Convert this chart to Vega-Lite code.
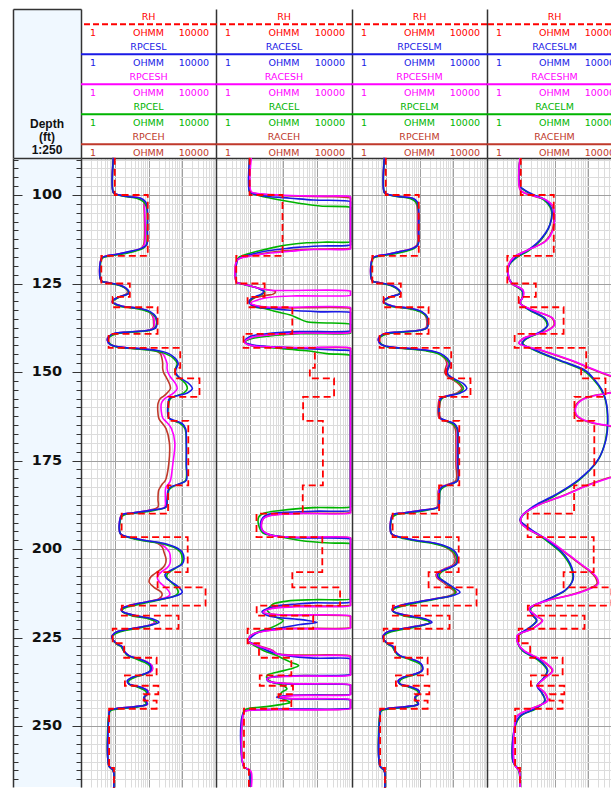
{
"$schema":"https://vega.github.io/schema/vega-lite/v6.json",
"background":"white",
"padding":{"left":12,"top":9,"right":0,"bottom":0},
"spacing":0,
"bounds":"flush",
"align":"each",
"columns":5,
"config":{"view":{"stroke":null},"axis":{"domainColor":"#333333","domainWidth":1.5,"tickColor":"#333333"},"text":{"font":"DejaVu Sans"}},
"datasets":{
"depthTitle":[{"label":"Depth\n(ft)\n1:250"}],
"depthLabels":[{"depth":100},{"depth":125},{"depth":150},{"depth":175},{"depth":200},{"depth":225},{"depth":250}],
"hdr1":[{"row":0,"curve":"RH","fam":"RH","lo":1,"hi":10000,"unit":"OHMM"},{"row":1,"curve":"RPCESL","fam":"SL","lo":1,"hi":10000,"unit":"OHMM"},{"row":2,"curve":"RPCESH","fam":"SH","lo":1,"hi":10000,"unit":"OHMM"},{"row":3,"curve":"RPCEL","fam":"L","lo":1,"hi":10000,"unit":"OHMM"},{"row":4,"curve":"RPCEH","fam":"H","lo":1,"hi":10000,"unit":"OHMM"}],
"hdr2":[{"row":0,"curve":"RH","fam":"RH","lo":1,"hi":10000,"unit":"OHMM"},{"row":1,"curve":"RACESL","fam":"SL","lo":1,"hi":10000,"unit":"OHMM"},{"row":2,"curve":"RACESH","fam":"SH","lo":1,"hi":10000,"unit":"OHMM"},{"row":3,"curve":"RACEL","fam":"L","lo":1,"hi":10000,"unit":"OHMM"},{"row":4,"curve":"RACEH","fam":"H","lo":1,"hi":10000,"unit":"OHMM"}],
"hdr3":[{"row":0,"curve":"RH","fam":"RH","lo":1,"hi":10000,"unit":"OHMM"},{"row":1,"curve":"RPCESLM","fam":"SL","lo":1,"hi":10000,"unit":"OHMM"},{"row":2,"curve":"RPCESHM","fam":"SH","lo":1,"hi":10000,"unit":"OHMM"},{"row":3,"curve":"RPCELM","fam":"L","lo":1,"hi":10000,"unit":"OHMM"},{"row":4,"curve":"RPCEHM","fam":"H","lo":1,"hi":10000,"unit":"OHMM"}],
"hdr4":[{"row":0,"curve":"RH","fam":"RH","lo":1,"hi":10000,"unit":"OHMM"},{"row":1,"curve":"RACESLM","fam":"SL","lo":1,"hi":10000,"unit":"OHMM"},{"row":2,"curve":"RACESHM","fam":"SH","lo":1,"hi":10000,"unit":"OHMM"},{"row":3,"curve":"RACELM","fam":"L","lo":1,"hi":10000,"unit":"OHMM"},{"row":4,"curve":"RACEHM","fam":"H","lo":1,"hi":10000,"unit":"OHMM"}],
"RH":[{"depth":89.5,"res":10},{"depth":100,"res":95},{"depth":117.2,"res":4},{"depth":125,"res":28},{"depth":128.8,"res":8.7},{"depth":131.7,"res":186},{"depth":139.2,"res":6.6},{"depth":143.2,"res":870},{"depth":148.8,"res":617},{"depth":151.8,"res":3240},{"depth":157,"res":390},{"depth":163.8,"res":1510},{"depth":182,"res":380},{"depth":190,"res":16},{"depth":196.6,"res":1450},{"depth":206.5,"res":186},{"depth":210.8,"res":4900},{"depth":216,"res":16.2},{"depth":218.8,"res":776},{"depth":222.5,"res":8.7},{"depth":226.6,"res":19},{"depth":230.7,"res":174},{"depth":235.7,"res":20},{"depth":238.6,"res":195},{"depth":241,"res":72},{"depth":242.8,"res":174},{"depth":245.1,"res":6.8},{"depth":261.8,"res":9.5},{"depth":267.6,"res":9.5}],
"RPCESL":[{"depth":89.5,"res":9.1},{"depth":99.3,"res":9.1},{"depth":99.8,"res":11.2},{"depth":100.5,"res":26.3},{"depth":100.9,"res":58.9},{"depth":101.9,"res":81.3},{"depth":103.3,"res":91.2},{"depth":110,"res":93.3},{"depth":114,"res":89.1},{"depth":115,"res":64.6},{"depth":116,"res":26.3},{"depth":116.8,"res":10.7},{"depth":117.3,"res":5.37},{"depth":117.9,"res":4.07},{"depth":124.2,"res":3.98},{"depth":124.8,"res":6.76},{"depth":125.7,"res":16.6},{"depth":126.9,"res":25.1},{"depth":127.8,"res":26.3},{"depth":128.8,"res":13.2},{"depth":129.7,"res":8.91},{"depth":130.2,"res":8.51},{"depth":131.4,"res":16.6},{"depth":132,"res":52.5},{"depth":133,"res":115},{"depth":134.4,"res":166},{"depth":136,"res":178},{"depth":137.5,"res":166},{"depth":138.2,"res":100},{"depth":138.7,"res":26.3},{"depth":139.1,"res":9.55},{"depth":140.1,"res":6.46},{"depth":141,"res":6.03},{"depth":142.1,"res":7.08},{"depth":142.9,"res":13.2},{"depth":143.4,"res":52.5},{"depth":144,"res":204},{"depth":144.8,"res":398},{"depth":146.2,"res":631},{"depth":147.6,"res":759},{"depth":149,"res":661},{"depth":150.2,"res":631},{"depth":151.4,"res":794},{"depth":153.3,"res":1585},{"depth":154.7,"res":1995},{"depth":155.9,"res":1413},{"depth":156.8,"res":631},{"depth":157.5,"res":417},{"depth":158.9,"res":380},{"depth":162.9,"res":398},{"depth":163.8,"res":631},{"depth":164.6,"res":1000},{"depth":166,"res":1259},{"depth":170,"res":1318},{"depth":176,"res":1318},{"depth":180.6,"res":1318},{"depth":181.5,"res":891},{"depth":182.5,"res":447},{"depth":183.4,"res":380},{"depth":186,"res":355},{"depth":188.1,"res":331},{"depth":189,"res":129},{"depth":189.8,"res":33.1},{"depth":190.3,"res":16.6},{"depth":191,"res":14.8},{"depth":195.7,"res":14.8},{"depth":196.8,"res":33.1},{"depth":197.6,"res":81.3},{"depth":198.3,"res":257},{"depth":199.5,"res":631},{"depth":200.9,"res":1000},{"depth":202.8,"res":1122},{"depth":204.2,"res":1000},{"depth":205.3,"res":631},{"depth":206.3,"res":398},{"depth":207.2,"res":309},{"depth":208.1,"res":331},{"depth":209.4,"res":501},{"depth":210.8,"res":794},{"depth":212.2,"res":1000},{"depth":213.1,"res":708},{"depth":214.1,"res":257},{"depth":215,"res":81.3},{"depth":216,"res":26.3},{"depth":216.9,"res":15.8},{"depth":217.6,"res":16.6},{"depth":218.8,"res":41.7},{"depth":219.7,"res":129},{"depth":220.7,"res":204},{"depth":221.6,"res":100},{"depth":222.6,"res":26.3},{"depth":223.5,"res":10.7},{"depth":224.4,"res":8.51},{"depth":224.9,"res":8.13},{"depth":226.8,"res":11.7},{"depth":227.5,"res":16.6},{"depth":228.7,"res":18.6},{"depth":230.1,"res":26.3},{"depth":231,"res":52.5},{"depth":232,"res":91.2},{"depth":232.9,"res":115},{"depth":234.3,"res":115},{"depth":235.3,"res":72.4},{"depth":236.2,"res":33.1},{"depth":237.2,"res":23.4},{"depth":238.1,"res":26.3},{"depth":239,"res":58.9},{"depth":240,"res":91.2},{"depth":240.9,"res":91.2},{"depth":241.9,"res":72.4},{"depth":242.8,"res":81.3},{"depth":243.8,"res":91.2},{"depth":244.5,"res":41.7},{"depth":245.1,"res":10.7},{"depth":245.6,"res":7.08},{"depth":246.6,"res":6.76},{"depth":261.3,"res":6.76},{"depth":262.2,"res":8.51},{"depth":263.1,"res":9.33},{"depth":267.6,"res":9.33}],
"RPCESH":[{"depth":89.5,"res":9.1},{"depth":99.3,"res":9.1},{"depth":99.8,"res":11.2},{"depth":100.5,"res":28.2},{"depth":100.9,"res":56.2},{"depth":101.9,"res":74.1},{"depth":103.3,"res":75.9},{"depth":114,"res":75.9},{"depth":115,"res":63.1},{"depth":116,"res":28.2},{"depth":116.8,"res":10.7},{"depth":117.3,"res":5.37},{"depth":117.9,"res":4.07},{"depth":124.2,"res":3.98},{"depth":124.8,"res":6.76},{"depth":125.7,"res":16.6},{"depth":126.9,"res":24},{"depth":127.8,"res":24},{"depth":128.8,"res":13.2},{"depth":129.7,"res":8.91},{"depth":130.2,"res":8.32},{"depth":131.4,"res":16.6},{"depth":132,"res":50.1},{"depth":133,"res":105},{"depth":134.4,"res":141},{"depth":136,"res":148},{"depth":137.5,"res":145},{"depth":138.2,"res":100},{"depth":138.7,"res":28.2},{"depth":139.1,"res":10},{"depth":140.1,"res":6.46},{"depth":141,"res":6.03},{"depth":142.1,"res":7.08},{"depth":142.9,"res":13.2},{"depth":143.4,"res":50.1},{"depth":144,"res":178},{"depth":144.8,"res":263},{"depth":146.2,"res":316},{"depth":147.6,"res":355},{"depth":149,"res":355},{"depth":150.2,"res":380},{"depth":151.4,"res":447},{"depth":153.3,"res":631},{"depth":154.7,"res":708},{"depth":155.9,"res":562},{"depth":156.8,"res":398},{"depth":157.5,"res":302},{"depth":158.9,"res":240},{"depth":162.9,"res":263},{"depth":163.8,"res":316},{"depth":164.6,"res":380},{"depth":166,"res":479},{"depth":170,"res":603},{"depth":176,"res":525},{"depth":180.6,"res":447},{"depth":181.5,"res":398},{"depth":182.5,"res":331},{"depth":183.4,"res":316},{"depth":186,"res":316},{"depth":188.1,"res":302},{"depth":189,"res":126},{"depth":189.8,"res":33.1},{"depth":190.3,"res":16.6},{"depth":191,"res":14.8},{"depth":195.7,"res":14.8},{"depth":196.8,"res":31.6},{"depth":197.6,"res":75.9},{"depth":198.3,"res":200},{"depth":199.5,"res":316},{"depth":200.9,"res":417},{"depth":202.8,"res":447},{"depth":204.2,"res":427},{"depth":205.3,"res":355},{"depth":206.3,"res":251},{"depth":207.2,"res":200},{"depth":208.1,"res":182},{"depth":209.4,"res":214},{"depth":210.8,"res":316},{"depth":212.2,"res":417},{"depth":213.1,"res":417},{"depth":214.1,"res":229},{"depth":215,"res":79.4},{"depth":216,"res":26.3},{"depth":216.9,"res":15.8},{"depth":217.6,"res":16.6},{"depth":218.8,"res":39.8},{"depth":219.7,"res":112},{"depth":220.7,"res":158},{"depth":221.6,"res":100},{"depth":222.6,"res":28.2},{"depth":223.5,"res":11.2},{"depth":224.4,"res":8.51},{"depth":224.9,"res":8.13},{"depth":226.8,"res":11.7},{"depth":227.5,"res":15.8},{"depth":228.7,"res":18.6},{"depth":230.1,"res":26.3},{"depth":231,"res":52.5},{"depth":232,"res":95.5},{"depth":232.9,"res":126},{"depth":234.3,"res":126},{"depth":235.3,"res":79.4},{"depth":236.2,"res":35.5},{"depth":237.2,"res":25.1},{"depth":238.1,"res":26.3},{"depth":239,"res":58.9},{"depth":240,"res":95.5},{"depth":240.9,"res":95.5},{"depth":241.9,"res":75.9},{"depth":242.8,"res":83.2},{"depth":243.8,"res":93.3},{"depth":244.5,"res":41.7},{"depth":245.1,"res":10.7},{"depth":245.6,"res":7.08},{"depth":246.6,"res":6.76},{"depth":261.3,"res":6.76},{"depth":262.2,"res":8.51},{"depth":263.1,"res":9.33},{"depth":267.6,"res":9.33}],
"RPCEL":[{"depth":89.5,"res":9.1},{"depth":99.3,"res":9.1},{"depth":99.8,"res":10.7},{"depth":100.5,"res":22.4},{"depth":100.9,"res":44.7},{"depth":101.9,"res":70.8},{"depth":103.3,"res":87.1},{"depth":110,"res":91.2},{"depth":114,"res":87.1},{"depth":115,"res":70.8},{"depth":116,"res":35.5},{"depth":116.8,"res":14.1},{"depth":117.3,"res":6.31},{"depth":117.9,"res":4.27},{"depth":124.2,"res":3.98},{"depth":124.8,"res":6.31},{"depth":125.7,"res":15.1},{"depth":126.9,"res":24},{"depth":127.8,"res":25.1},{"depth":128.8,"res":14.1},{"depth":129.7,"res":9.33},{"depth":130.2,"res":8.71},{"depth":131.4,"res":14.1},{"depth":132,"res":39.8},{"depth":133,"res":100},{"depth":134.4,"res":158},{"depth":136,"res":174},{"depth":137.5,"res":158},{"depth":138.2,"res":112},{"depth":138.7,"res":35.5},{"depth":139.1,"res":12.6},{"depth":140.1,"res":7.08},{"depth":141,"res":6.31},{"depth":142.1,"res":7.41},{"depth":142.9,"res":11.2},{"depth":143.4,"res":35.5},{"depth":144,"res":141},{"depth":144.8,"res":316},{"depth":146.2,"res":562},{"depth":147.6,"res":708},{"depth":149,"res":631},{"depth":150.2,"res":617},{"depth":151.4,"res":759},{"depth":153.3,"res":1259},{"depth":154.7,"res":1413},{"depth":155.9,"res":1122},{"depth":156.8,"res":631},{"depth":157.5,"res":447},{"depth":158.9,"res":398},{"depth":162.9,"res":398},{"depth":163.8,"res":562},{"depth":164.6,"res":891},{"depth":166,"res":1202},{"depth":170,"res":1318},{"depth":176,"res":1318},{"depth":180.6,"res":1259},{"depth":181.5,"res":891},{"depth":182.5,"res":501},{"depth":183.4,"res":398},{"depth":186,"res":363},{"depth":188.1,"res":331},{"depth":189,"res":158},{"depth":189.8,"res":44.7},{"depth":190.3,"res":20},{"depth":191,"res":15.8},{"depth":195.7,"res":14.8},{"depth":196.8,"res":28.2},{"depth":197.6,"res":63.1},{"depth":198.3,"res":200},{"depth":199.5,"res":562},{"depth":200.9,"res":891},{"depth":202.8,"res":1000},{"depth":204.2,"res":933},{"depth":205.3,"res":661},{"depth":206.3,"res":447},{"depth":207.2,"res":355},{"depth":208.1,"res":355},{"depth":209.4,"res":479},{"depth":210.8,"res":661},{"depth":212.2,"res":759},{"depth":213.1,"res":631},{"depth":214.1,"res":282},{"depth":215,"res":100},{"depth":216,"res":35.5},{"depth":216.9,"res":17.8},{"depth":217.6,"res":16.6},{"depth":218.8,"res":31.6},{"depth":219.7,"res":100},{"depth":220.7,"res":178},{"depth":221.6,"res":112},{"depth":222.6,"res":35.5},{"depth":223.5,"res":13.2},{"depth":224.4,"res":8.91},{"depth":224.9,"res":8.32},{"depth":226.8,"res":11.2},{"depth":227.5,"res":15.1},{"depth":228.7,"res":18.2},{"depth":230.1,"res":24},{"depth":231,"res":41.7},{"depth":232,"res":75.9},{"depth":232.9,"res":107},{"depth":234.3,"res":112},{"depth":235.3,"res":79.4},{"depth":236.2,"res":39.8},{"depth":237.2,"res":26.3},{"depth":238.1,"res":26.3},{"depth":239,"res":47.9},{"depth":240,"res":79.4},{"depth":240.9,"res":89.1},{"depth":241.9,"res":75.9},{"depth":242.8,"res":75.9},{"depth":243.8,"res":85.1},{"depth":244.5,"res":52.5},{"depth":245.1,"res":14.1},{"depth":245.6,"res":7.59},{"depth":246.6,"res":6.76},{"depth":261.3,"res":6.76},{"depth":262.2,"res":8.32},{"depth":263.1,"res":9.33},{"depth":267.6,"res":9.33}],
"RPCEH":[{"depth":89.5,"res":9.1},{"depth":99.3,"res":9.1},{"depth":99.8,"res":11.2},{"depth":100.5,"res":28.2},{"depth":100.9,"res":56.2},{"depth":101.9,"res":72.4},{"depth":103.3,"res":74.1},{"depth":114,"res":72.4},{"depth":115,"res":61.7},{"depth":116,"res":28.2},{"depth":116.8,"res":10.7},{"depth":117.3,"res":5.37},{"depth":117.9,"res":4.07},{"depth":124.2,"res":3.98},{"depth":124.8,"res":6.76},{"depth":125.7,"res":16.6},{"depth":126.9,"res":23.4},{"depth":127.8,"res":22.9},{"depth":128.8,"res":13.2},{"depth":129.7,"res":8.91},{"depth":130.2,"res":8.32},{"depth":131.4,"res":16.6},{"depth":132,"res":50.1},{"depth":133,"res":105},{"depth":134.4,"res":135},{"depth":136,"res":141},{"depth":137.5,"res":138},{"depth":138.2,"res":100},{"depth":138.7,"res":28.2},{"depth":139.1,"res":10},{"depth":140.1,"res":6.46},{"depth":141,"res":6.03},{"depth":142.1,"res":7.08},{"depth":142.9,"res":13.2},{"depth":143.4,"res":47.9},{"depth":144,"res":158},{"depth":144.8,"res":224},{"depth":146.2,"res":251},{"depth":147.6,"res":263},{"depth":149,"res":263},{"depth":150.2,"res":282},{"depth":151.4,"res":331},{"depth":153.3,"res":417},{"depth":154.7,"res":447},{"depth":155.9,"res":355},{"depth":156.8,"res":282},{"depth":157.5,"res":224},{"depth":158.9,"res":191},{"depth":162.9,"res":200},{"depth":163.8,"res":224},{"depth":164.6,"res":263},{"depth":166,"res":331},{"depth":170,"res":417},{"depth":176,"res":398},{"depth":180.6,"res":316},{"depth":181.5,"res":263},{"depth":182.5,"res":224},{"depth":183.4,"res":200},{"depth":186,"res":191},{"depth":188.1,"res":191},{"depth":189,"res":112},{"depth":189.8,"res":33.1},{"depth":190.3,"res":16.6},{"depth":191,"res":14.8},{"depth":195.7,"res":14.8},{"depth":196.8,"res":31.6},{"depth":197.6,"res":75.9},{"depth":198.3,"res":178},{"depth":199.5,"res":257},{"depth":200.9,"res":288},{"depth":202.8,"res":331},{"depth":204.2,"res":316},{"depth":205.3,"res":263},{"depth":206.3,"res":191},{"depth":207.2,"res":141},{"depth":208.1,"res":112},{"depth":209.4,"res":105},{"depth":210.8,"res":145},{"depth":212.2,"res":240},{"depth":213.1,"res":251},{"depth":214.1,"res":200},{"depth":215,"res":79.4},{"depth":216,"res":26.3},{"depth":216.9,"res":15.8},{"depth":217.6,"res":16.6},{"depth":218.8,"res":39.8},{"depth":219.7,"res":112},{"depth":220.7,"res":151},{"depth":221.6,"res":100},{"depth":222.6,"res":28.2},{"depth":223.5,"res":11.2},{"depth":224.4,"res":8.51},{"depth":224.9,"res":8.13},{"depth":226.8,"res":11.7},{"depth":227.5,"res":15.8},{"depth":228.7,"res":18.6},{"depth":230.1,"res":26.3},{"depth":231,"res":52.5},{"depth":232,"res":95.5},{"depth":232.9,"res":126},{"depth":234.3,"res":126},{"depth":235.3,"res":79.4},{"depth":236.2,"res":35.5},{"depth":237.2,"res":25.1},{"depth":238.1,"res":26.3},{"depth":239,"res":58.9},{"depth":240,"res":95.5},{"depth":240.9,"res":95.5},{"depth":241.9,"res":75.9},{"depth":242.8,"res":83.2},{"depth":243.8,"res":93.3},{"depth":244.5,"res":41.7},{"depth":245.1,"res":10.7},{"depth":245.6,"res":7.08},{"depth":246.6,"res":6.76},{"depth":261.3,"res":6.76},{"depth":262.2,"res":8.51},{"depth":263.1,"res":9.33},{"depth":267.6,"res":9.33}],
"RACESL":[{"depth":89.5,"res":10},{"depth":99.1,"res":10},{"depth":99.5,"res":12},{"depth":100,"res":17.8},{"depth":100.3,"res":28.2},{"depth":100.5,"res":41.7},{"depth":100.9,"res":162},{"depth":101.4,"res":794},{"depth":101.9,"res":20000},{"depth":102.2,"res":20000},{"depth":113.8,"res":20000},{"depth":114.1,"res":20000},{"depth":114.4,"res":1259},{"depth":114.8,"res":257},{"depth":115.1,"res":126},{"depth":115.4,"res":64.6},{"depth":115.9,"res":28.2},{"depth":116.5,"res":14.1},{"depth":117.3,"res":6.76},{"depth":118.2,"res":4.47},{"depth":118.8,"res":4.17},{"depth":124.6,"res":4.07},{"depth":125,"res":5.37},{"depth":125.7,"res":10.7},{"depth":126.4,"res":18.6},{"depth":127.1,"res":25.1},{"depth":127.3,"res":26.3},{"depth":128,"res":22.4},{"depth":128.9,"res":13.2},{"depth":129.7,"res":10},{"depth":130.2,"res":9.55},{"depth":130.6,"res":10},{"depth":131.6,"res":16.6},{"depth":132,"res":41.7},{"depth":132.5,"res":129},{"depth":133,"res":1259},{"depth":133.2,"res":20000},{"depth":133.5,"res":20000},{"depth":138,"res":20000},{"depth":138.3,"res":20000},{"depth":138.6,"res":251},{"depth":139.2,"res":31.6},{"depth":140,"res":10},{"depth":141.5,"res":7.08},{"depth":142.4,"res":13.2},{"depth":142.9,"res":52.5},{"depth":143.4,"res":501},{"depth":143.8,"res":4898},{"depth":144,"res":20000},{"depth":144.3,"res":20000},{"depth":188.8,"res":20000},{"depth":189.1,"res":20000},{"depth":189.3,"res":794},{"depth":189.9,"res":52.5},{"depth":190.6,"res":28.2},{"depth":192.9,"res":20.9},{"depth":195.2,"res":26.3},{"depth":196.2,"res":52.5},{"depth":196.8,"res":257},{"depth":197.2,"res":20000},{"depth":197.5,"res":20000},{"depth":214.7,"res":20000},{"depth":215,"res":20000},{"depth":215.2,"res":794},{"depth":215.5,"res":257},{"depth":216.2,"res":52.5},{"depth":217.1,"res":28.2},{"depth":217.7,"res":23.4},{"depth":218.8,"res":35.5},{"depth":220,"res":398},{"depth":220.7,"res":1000},{"depth":221.3,"res":316},{"depth":222.3,"res":81.3},{"depth":223.5,"res":18.6},{"depth":225,"res":10.7},{"depth":226,"res":8.91},{"depth":226.8,"res":13.2},{"depth":227.8,"res":20.9},{"depth":229.2,"res":46.8},{"depth":230.1,"res":129},{"depth":230.8,"res":794},{"depth":231,"res":20000},{"depth":231.3,"res":20000},{"depth":235.1,"res":20000},{"depth":235.4,"res":20000},{"depth":235.8,"res":158},{"depth":236.5,"res":33.1},{"depth":237.3,"res":35.5},{"depth":238,"res":100},{"depth":238.4,"res":20000},{"depth":238.6,"res":20000},{"depth":240.8,"res":20000},{"depth":241,"res":20000},{"depth":241.3,"res":200},{"depth":241.8,"res":63.1},{"depth":242.2,"res":100},{"depth":242.6,"res":20000},{"depth":242.8,"res":20000},{"depth":244.7,"res":20000},{"depth":244.9,"res":20000},{"depth":245.2,"res":100},{"depth":245.5,"res":12.6},{"depth":246,"res":6.76},{"depth":261.5,"res":6.76},{"depth":262.2,"res":8.91},{"depth":263,"res":10},{"depth":267.6,"res":10}],
"RACESH":[{"depth":89.5,"res":11.2},{"depth":99.1,"res":11.2},{"depth":99.5,"res":15.8},{"depth":100,"res":79.4},{"depth":100.3,"res":794},{"depth":100.5,"res":20000},{"depth":100.8,"res":20000},{"depth":114.9,"res":20000},{"depth":115.2,"res":20000},{"depth":115.4,"res":794},{"depth":115.9,"res":162},{"depth":116.5,"res":33.1},{"depth":117.4,"res":8.51},{"depth":118.4,"res":4.27},{"depth":124.6,"res":4.07},{"depth":125,"res":5.37},{"depth":125.7,"res":10.7},{"depth":126.4,"res":20},{"depth":126.9,"res":41.7},{"depth":127.15,"res":20000},{"depth":127.4,"res":20000},{"depth":128.1,"res":20000},{"depth":128.3,"res":20000},{"depth":128.5,"res":257},{"depth":128.9,"res":41.7},{"depth":129.7,"res":16.6},{"depth":130.6,"res":10.7},{"depth":131.4,"res":20},{"depth":131.7,"res":39.8},{"depth":131.8,"res":20000},{"depth":132.1,"res":20000},{"depth":138.5,"res":20000},{"depth":138.8,"res":20000},{"depth":139,"res":316},{"depth":139.5,"res":39.8},{"depth":140.3,"res":11.2},{"depth":141.5,"res":7.08},{"depth":142.4,"res":10},{"depth":142.9,"res":39.8},{"depth":143.1,"res":316},{"depth":143.2,"res":20000},{"depth":143.5,"res":20000},{"depth":189.5,"res":20000},{"depth":189.8,"res":20000},{"depth":190,"res":251},{"depth":190.6,"res":39.8},{"depth":191.5,"res":25.1},{"depth":194.5,"res":23.4},{"depth":196,"res":41.7},{"depth":196.6,"res":158},{"depth":196.8,"res":20000},{"depth":197.1,"res":20000},{"depth":215.7,"res":20000},{"depth":216,"res":20000},{"depth":216.3,"res":251},{"depth":216.9,"res":39.8},{"depth":217.9,"res":25.1},{"depth":218.5,"res":63.1},{"depth":218.9,"res":20000},{"depth":219.2,"res":20000},{"depth":222,"res":20000},{"depth":222.3,"res":20000},{"depth":222.5,"res":158},{"depth":223,"res":39.8},{"depth":223.8,"res":14.1},{"depth":225,"res":9.55},{"depth":226,"res":8.91},{"depth":227.5,"res":20},{"depth":228.7,"res":46.8},{"depth":229.6,"res":64.6},{"depth":230.1,"res":251},{"depth":230.3,"res":20000},{"depth":230.6,"res":20000},{"depth":235.3,"res":20000},{"depth":235.6,"res":20000},{"depth":235.9,"res":200},{"depth":236.6,"res":33.1},{"depth":237.4,"res":39.8},{"depth":238,"res":158},{"depth":238.3,"res":20000},{"depth":238.5,"res":20000},{"depth":240.9,"res":20000},{"depth":241.1,"res":20000},{"depth":241.4,"res":200},{"depth":241.9,"res":79.4},{"depth":242.2,"res":158},{"depth":242.5,"res":20000},{"depth":242.7,"res":20000},{"depth":244.9,"res":20000},{"depth":245.1,"res":20000},{"depth":245.4,"res":63.1},{"depth":245.7,"res":7.94},{"depth":246.2,"res":6.76},{"depth":261.5,"res":6.76},{"depth":262.2,"res":9.33},{"depth":263,"res":11.2},{"depth":267.6,"res":11.2}],
"RACEL":[{"depth":89.5,"res":10},{"depth":99.1,"res":10},{"depth":99.5,"res":11.2},{"depth":100.5,"res":26.3},{"depth":101.4,"res":81.3},{"depth":102.4,"res":324},{"depth":103.1,"res":1259},{"depth":103.5,"res":20000},{"depth":103.8,"res":20000},{"depth":112.9,"res":20000},{"depth":113.2,"res":20000},{"depth":113.3,"res":1950},{"depth":113.5,"res":501},{"depth":114.1,"res":126},{"depth":114.8,"res":52.5},{"depth":115.7,"res":20.9},{"depth":116.7,"res":8.51},{"depth":117.6,"res":4.79},{"depth":118.4,"res":4.27},{"depth":124.6,"res":4.07},{"depth":125,"res":5.25},{"depth":125.7,"res":10.5},{"depth":126.4,"res":18.6},{"depth":127.3,"res":28.2},{"depth":128,"res":24},{"depth":128.9,"res":14.1},{"depth":129.7,"res":10.5},{"depth":130.2,"res":9.77},{"depth":131.6,"res":14.1},{"depth":132,"res":25.1},{"depth":133,"res":64.6},{"depth":133.9,"res":162},{"depth":134.9,"res":288},{"depth":135.8,"res":501},{"depth":136.5,"res":20000},{"depth":136.7,"res":20000},{"depth":138.8,"res":20000},{"depth":139,"res":20000},{"depth":139.2,"res":316},{"depth":139.8,"res":39.8},{"depth":140.6,"res":11.2},{"depth":141.5,"res":7.41},{"depth":142.4,"res":10},{"depth":143,"res":31.6},{"depth":144,"res":501},{"depth":144.8,"res":1950},{"depth":145.3,"res":20000},{"depth":145.6,"res":20000},{"depth":187.8,"res":20000},{"depth":188.1,"res":20000},{"depth":188.3,"res":794},{"depth":189.1,"res":81.3},{"depth":189.9,"res":26.3},{"depth":191,"res":18.6},{"depth":193.3,"res":18.6},{"depth":195.5,"res":25.1},{"depth":196.2,"res":52.5},{"depth":197.6,"res":324},{"depth":198.3,"res":2455},{"depth":198.5,"res":20000},{"depth":198.8,"res":20000},{"depth":213.8,"res":20000},{"depth":214.1,"res":20000},{"depth":214.3,"res":794},{"depth":214.7,"res":129},{"depth":215.5,"res":50.1},{"depth":216.2,"res":41.7},{"depth":217.1,"res":33.1},{"depth":218.3,"res":41.7},{"depth":219.2,"res":58.9},{"depth":220.2,"res":100},{"depth":221,"res":79.4},{"depth":222.3,"res":41.7},{"depth":223.5,"res":16.6},{"depth":225,"res":9.55},{"depth":226,"res":8.91},{"depth":226.8,"res":11.7},{"depth":228.7,"res":26.3},{"depth":230.1,"res":64.6},{"depth":231,"res":100},{"depth":232,"res":170},{"depth":232.9,"res":288},{"depth":233.9,"res":158},{"depth":234.8,"res":64.6},{"depth":235.7,"res":33.1},{"depth":236.7,"res":33.1},{"depth":237.6,"res":46.8},{"depth":238.6,"res":100},{"depth":239.5,"res":129},{"depth":240.5,"res":89.1},{"depth":241.4,"res":79.4},{"depth":242.4,"res":100},{"depth":243.3,"res":162},{"depth":243.8,"res":100},{"depth":244.5,"res":31.6},{"depth":245.1,"res":8.51},{"depth":245.8,"res":6.76},{"depth":261.5,"res":6.76},{"depth":262.2,"res":8.91},{"depth":263,"res":10},{"depth":267.6,"res":10}],
"RACEH":[{"depth":89.5,"res":10.7},{"depth":99.1,"res":10.7},{"depth":99.5,"res":14.1},{"depth":100,"res":39.8},{"depth":100.3,"res":200},{"depth":100.5,"res":3162},{"depth":100.9,"res":20000},{"depth":101.2,"res":20000},{"depth":114.7,"res":20000},{"depth":115,"res":20000},{"depth":115.2,"res":3162},{"depth":115.4,"res":316},{"depth":115.9,"res":79.4},{"depth":116.5,"res":25.1},{"depth":117.3,"res":8.91},{"depth":118.3,"res":4.27},{"depth":124.6,"res":4.07},{"depth":125,"res":5.37},{"depth":125.7,"res":10.7},{"depth":126.4,"res":20},{"depth":127.3,"res":58.9},{"depth":128,"res":50.1},{"depth":128.3,"res":31.6},{"depth":128.9,"res":15.8},{"depth":129.7,"res":11.2},{"depth":130.6,"res":10.5},{"depth":131.6,"res":22.4},{"depth":131.9,"res":50.1},{"depth":132.1,"res":20000},{"depth":132.4,"res":20000},{"depth":138.3,"res":20000},{"depth":138.6,"res":20000},{"depth":138.9,"res":251},{"depth":139.4,"res":39.8},{"depth":140.3,"res":11.2},{"depth":141.5,"res":7.08},{"depth":142.4,"res":10},{"depth":142.9,"res":39.8},{"depth":143.2,"res":316},{"depth":143.3,"res":20000},{"depth":143.6,"res":20000},{"depth":189.3,"res":20000},{"depth":189.6,"res":20000},{"depth":189.9,"res":251},{"depth":190.5,"res":39.8},{"depth":191.5,"res":25.1},{"depth":194.5,"res":23.4},{"depth":196,"res":41.7},{"depth":196.7,"res":200},{"depth":196.9,"res":20000},{"depth":197.2,"res":20000},{"depth":215.5,"res":20000},{"depth":215.8,"res":20000},{"depth":216.1,"res":251},{"depth":216.8,"res":39.8},{"depth":217.9,"res":25.1},{"depth":218.6,"res":79.4},{"depth":219,"res":20000},{"depth":219.2,"res":20000},{"depth":222,"res":20000},{"depth":222.2,"res":20000},{"depth":222.4,"res":158},{"depth":222.9,"res":39.8},{"depth":223.8,"res":14.1},{"depth":225,"res":9.55},{"depth":226,"res":8.91},{"depth":227.5,"res":22.4},{"depth":228.7,"res":50.1},{"depth":229.5,"res":63.1},{"depth":229.9,"res":200},{"depth":230.2,"res":20000},{"depth":230.5,"res":20000},{"depth":235.2,"res":20000},{"depth":235.5,"res":20000},{"depth":235.8,"res":200},{"depth":236.5,"res":35.5},{"depth":237.3,"res":39.8},{"depth":238,"res":158},{"depth":238.4,"res":20000},{"depth":238.6,"res":20000},{"depth":240.8,"res":20000},{"depth":241,"res":20000},{"depth":241.3,"res":200},{"depth":241.8,"res":79.4},{"depth":242.2,"res":158},{"depth":242.6,"res":20000},{"depth":242.8,"res":20000},{"depth":244.8,"res":20000},{"depth":245,"res":20000},{"depth":245.3,"res":63.1},{"depth":245.6,"res":7.94},{"depth":246.1,"res":6.76},{"depth":261.5,"res":6.76},{"depth":262.2,"res":9.12},{"depth":263,"res":10.7},{"depth":267.6,"res":10.7}],
"RPCESLM":[{"depth":89.5,"res":9.1},{"depth":99.3,"res":9.1},{"depth":99.8,"res":11.2},{"depth":100.5,"res":28.2},{"depth":100.9,"res":63.1},{"depth":101.9,"res":85.1},{"depth":103.3,"res":93.3},{"depth":110,"res":95.5},{"depth":114,"res":91.2},{"depth":115,"res":66.1},{"depth":116,"res":26.3},{"depth":116.8,"res":10.7},{"depth":117.3,"res":5.37},{"depth":117.9,"res":4.07},{"depth":124.2,"res":3.98},{"depth":124.8,"res":6.76},{"depth":125.7,"res":16.6},{"depth":126.9,"res":25.1},{"depth":127.8,"res":27.5},{"depth":128.8,"res":13.2},{"depth":129.7,"res":8.91},{"depth":130.2,"res":8.51},{"depth":131.4,"res":16.6},{"depth":132,"res":52.5},{"depth":133,"res":120},{"depth":134.4,"res":170},{"depth":136,"res":182},{"depth":137.5,"res":170},{"depth":138.2,"res":100},{"depth":138.7,"res":26.3},{"depth":139.1,"res":9.55},{"depth":140.1,"res":6.46},{"depth":141,"res":6.03},{"depth":142.1,"res":7.08},{"depth":142.9,"res":13.2},{"depth":143.4,"res":52.5},{"depth":144,"res":214},{"depth":144.8,"res":427},{"depth":146.2,"res":676},{"depth":147.6,"res":813},{"depth":149,"res":708},{"depth":150.2,"res":661},{"depth":151.4,"res":851},{"depth":153.3,"res":1995},{"depth":154.7,"res":2512},{"depth":155.9,"res":1622},{"depth":156.8,"res":661},{"depth":157.5,"res":427},{"depth":158.9,"res":389},{"depth":162.9,"res":407},{"depth":163.8,"res":661},{"depth":164.6,"res":1072},{"depth":166,"res":1349},{"depth":170,"res":1380},{"depth":176,"res":1380},{"depth":180.6,"res":1380},{"depth":181.5,"res":933},{"depth":182.5,"res":457},{"depth":183.4,"res":398},{"depth":186,"res":389},{"depth":188.1,"res":363},{"depth":189,"res":135},{"depth":189.8,"res":33.1},{"depth":190.3,"res":16.2},{"depth":191,"res":14.8},{"depth":195.7,"res":14.8},{"depth":196.8,"res":33.1},{"depth":197.6,"res":83.2},{"depth":198.3,"res":275},{"depth":199.5,"res":708},{"depth":200.9,"res":1175},{"depth":202.8,"res":1380},{"depth":204.2,"res":1259},{"depth":205.3,"res":776},{"depth":206.3,"res":427},{"depth":207.2,"res":347},{"depth":208.1,"res":372},{"depth":209.4,"res":600},{"depth":210.8,"res":1000},{"depth":212.2,"res":1585},{"depth":213.1,"res":1000},{"depth":214.1,"res":282},{"depth":215,"res":81.3},{"depth":216,"res":26.3},{"depth":216.9,"res":15.8},{"depth":217.6,"res":16.6},{"depth":218.8,"res":44.7},{"depth":219.7,"res":145},{"depth":220.7,"res":234},{"depth":221.6,"res":107},{"depth":222.6,"res":26.3},{"depth":223.5,"res":10.7},{"depth":224.4,"res":8.51},{"depth":224.9,"res":8.13},{"depth":226.8,"res":11.7},{"depth":227.5,"res":16.6},{"depth":228.7,"res":18.6},{"depth":230.1,"res":26.3},{"depth":231,"res":55},{"depth":232,"res":100},{"depth":232.9,"res":120},{"depth":234.3,"res":120},{"depth":235.3,"res":72.4},{"depth":236.2,"res":33.1},{"depth":237.2,"res":23.4},{"depth":238.1,"res":26.3},{"depth":239,"res":58.9},{"depth":240,"res":95.5},{"depth":240.9,"res":95.5},{"depth":241.9,"res":72.4},{"depth":242.8,"res":81.3},{"depth":243.8,"res":93.3},{"depth":244.5,"res":41.7},{"depth":245.1,"res":10.7},{"depth":245.6,"res":7.08},{"depth":246.6,"res":6.76},{"depth":261.3,"res":6.76},{"depth":262.2,"res":8.51},{"depth":263.1,"res":9.33},{"depth":267.6,"res":9.33}],
"RPCESHM":[{"depth":89.5,"res":9.1},{"depth":99.3,"res":9.1},{"depth":99.8,"res":11.2},{"depth":100.5,"res":28.2},{"depth":100.9,"res":60.3},{"depth":101.9,"res":79.4},{"depth":103.3,"res":87.1},{"depth":110,"res":89.1},{"depth":114,"res":87.1},{"depth":115,"res":64.6},{"depth":116,"res":26.3},{"depth":116.8,"res":10.7},{"depth":117.3,"res":5.37},{"depth":117.9,"res":4.07},{"depth":124.2,"res":3.98},{"depth":124.8,"res":6.76},{"depth":125.7,"res":16.6},{"depth":126.9,"res":25.1},{"depth":127.8,"res":26.3},{"depth":128.8,"res":13.2},{"depth":129.7,"res":8.91},{"depth":130.2,"res":8.51},{"depth":131.4,"res":16.6},{"depth":132,"res":52.5},{"depth":133,"res":115},{"depth":134.4,"res":162},{"depth":136,"res":174},{"depth":137.5,"res":162},{"depth":138.2,"res":100},{"depth":138.7,"res":26.3},{"depth":139.1,"res":9.55},{"depth":140.1,"res":6.46},{"depth":141,"res":6.03},{"depth":142.1,"res":7.08},{"depth":142.9,"res":13.2},{"depth":143.4,"res":52.5},{"depth":144,"res":204},{"depth":144.8,"res":398},{"depth":146.2,"res":617},{"depth":147.6,"res":708},{"depth":149,"res":646},{"depth":150.2,"res":617},{"depth":151.4,"res":776},{"depth":153.3,"res":1585},{"depth":154.7,"res":1995},{"depth":155.9,"res":1413},{"depth":156.8,"res":631},{"depth":157.5,"res":417},{"depth":158.9,"res":380},{"depth":162.9,"res":398},{"depth":163.8,"res":631},{"depth":164.6,"res":1000},{"depth":166,"res":1259},{"depth":170,"res":1318},{"depth":176,"res":1318},{"depth":180.6,"res":1318},{"depth":181.5,"res":891},{"depth":182.5,"res":447},{"depth":183.4,"res":380},{"depth":186,"res":372},{"depth":188.1,"res":347},{"depth":189,"res":129},{"depth":189.8,"res":33.1},{"depth":190.3,"res":16.6},{"depth":191,"res":14.8},{"depth":195.7,"res":14.8},{"depth":196.8,"res":33.1},{"depth":197.6,"res":81.3},{"depth":198.3,"res":257},{"depth":199.5,"res":661},{"depth":200.9,"res":1047},{"depth":202.8,"res":1259},{"depth":204.2,"res":1148},{"depth":205.3,"res":724},{"depth":206.3,"res":417},{"depth":207.2,"res":331},{"depth":208.1,"res":355},{"depth":209.4,"res":550},{"depth":210.8,"res":851},{"depth":212.2,"res":1259},{"depth":213.1,"res":891},{"depth":214.1,"res":269},{"depth":215,"res":81.3},{"depth":216,"res":26.3},{"depth":216.9,"res":15.8},{"depth":217.6,"res":16.6},{"depth":218.8,"res":43.7},{"depth":219.7,"res":138},{"depth":220.7,"res":219},{"depth":221.6,"res":105},{"depth":222.6,"res":26.3},{"depth":223.5,"res":10.7},{"depth":224.4,"res":8.51},{"depth":224.9,"res":8.13},{"depth":226.8,"res":11.7},{"depth":227.5,"res":16.6},{"depth":228.7,"res":18.6},{"depth":230.1,"res":26.3},{"depth":231,"res":55},{"depth":232,"res":97.7},{"depth":232.9,"res":120},{"depth":234.3,"res":120},{"depth":235.3,"res":75.9},{"depth":236.2,"res":33.1},{"depth":237.2,"res":23.4},{"depth":238.1,"res":26.3},{"depth":239,"res":58.9},{"depth":240,"res":95.5},{"depth":240.9,"res":95.5},{"depth":241.9,"res":74.1},{"depth":242.8,"res":81.3},{"depth":243.8,"res":93.3},{"depth":244.5,"res":41.7},{"depth":245.1,"res":10.7},{"depth":245.6,"res":7.08},{"depth":246.6,"res":6.76},{"depth":261.3,"res":6.76},{"depth":262.2,"res":8.51},{"depth":263.1,"res":9.33},{"depth":267.6,"res":9.33}],
"RPCELM":[{"depth":89.5,"res":9.1},{"depth":99.3,"res":9.1},{"depth":99.8,"res":10.7},{"depth":100.5,"res":24},{"depth":100.9,"res":50},{"depth":101.9,"res":76},{"depth":103.3,"res":89},{"depth":110,"res":93.3},{"depth":114,"res":89.1},{"depth":115,"res":72.4},{"depth":116,"res":35.5},{"depth":116.8,"res":14.1},{"depth":117.3,"res":6.31},{"depth":117.9,"res":4.27},{"depth":124.2,"res":3.98},{"depth":124.8,"res":6.31},{"depth":125.7,"res":15.1},{"depth":126.9,"res":24},{"depth":127.8,"res":26.3},{"depth":128.8,"res":14.1},{"depth":129.7,"res":9.33},{"depth":130.2,"res":8.71},{"depth":131.4,"res":14.1},{"depth":132,"res":42},{"depth":133,"res":105},{"depth":134.4,"res":162},{"depth":136,"res":178},{"depth":137.5,"res":166},{"depth":138.2,"res":112},{"depth":138.7,"res":35.5},{"depth":139.1,"res":12.6},{"depth":140.1,"res":7.08},{"depth":141,"res":6.31},{"depth":142.1,"res":7.41},{"depth":142.9,"res":11.2},{"depth":143.4,"res":38},{"depth":144,"res":155},{"depth":144.8,"res":347},{"depth":146.2,"res":603},{"depth":147.6,"res":760},{"depth":149,"res":690},{"depth":150.2,"res":650},{"depth":151.4,"res":800},{"depth":153.3,"res":1600},{"depth":154.7,"res":2000},{"depth":155.9,"res":1450},{"depth":156.8,"res":690},{"depth":157.5,"res":457},{"depth":158.9,"res":398},{"depth":162.9,"res":407},{"depth":163.8,"res":600},{"depth":164.6,"res":955},{"depth":166,"res":1288},{"depth":170,"res":1380},{"depth":176,"res":1380},{"depth":180.6,"res":1350},{"depth":181.5,"res":955},{"depth":182.5,"res":525},{"depth":183.4,"res":417},{"depth":186,"res":389},{"depth":188.1,"res":363},{"depth":189,"res":166},{"depth":189.8,"res":47},{"depth":190.3,"res":20.4},{"depth":191,"res":15.8},{"depth":195.7,"res":14.8},{"depth":196.8,"res":28.2},{"depth":197.6,"res":66},{"depth":198.3,"res":214},{"depth":199.5,"res":617},{"depth":200.9,"res":1047},{"depth":202.8,"res":1288},{"depth":204.2,"res":1202},{"depth":205.3,"res":813},{"depth":206.3,"res":479},{"depth":207.2,"res":389},{"depth":208.1,"res":398},{"depth":209.4,"res":575},{"depth":210.8,"res":871},{"depth":212.2,"res":1202},{"depth":213.1,"res":891},{"depth":214.1,"res":316},{"depth":215,"res":105},{"depth":216,"res":35.5},{"depth":216.9,"res":17.8},{"depth":217.6,"res":16.6},{"depth":218.8,"res":33},{"depth":219.7,"res":110},{"depth":220.7,"res":204},{"depth":221.6,"res":120},{"depth":222.6,"res":35.5},{"depth":223.5,"res":13.2},{"depth":224.4,"res":8.91},{"depth":224.9,"res":8.32},{"depth":226.8,"res":11.2},{"depth":227.5,"res":15.1},{"depth":228.7,"res":18.2},{"depth":230.1,"res":24},{"depth":231,"res":44.7},{"depth":232,"res":83},{"depth":232.9,"res":115},{"depth":234.3,"res":120},{"depth":235.3,"res":83},{"depth":236.2,"res":40},{"depth":237.2,"res":26.3},{"depth":238.1,"res":26.3},{"depth":239,"res":49},{"depth":240,"res":85},{"depth":240.9,"res":93.3},{"depth":241.9,"res":77.6},{"depth":242.8,"res":77.6},{"depth":243.8,"res":89},{"depth":244.5,"res":52.5},{"depth":245.1,"res":14.1},{"depth":245.6,"res":7.59},{"depth":246.6,"res":6.76},{"depth":261.3,"res":6.76},{"depth":262.2,"res":8.32},{"depth":263.1,"res":9.33},{"depth":267.6,"res":9.33}],
"RPCEHM":[{"depth":89.5,"res":9.1},{"depth":99.3,"res":9.1},{"depth":99.8,"res":11.2},{"depth":100.5,"res":28.2},{"depth":100.9,"res":58.9},{"depth":101.9,"res":77.6},{"depth":103.3,"res":85.1},{"depth":110,"res":87.1},{"depth":114,"res":85.1},{"depth":115,"res":63.1},{"depth":116,"res":26.3},{"depth":116.8,"res":10.7},{"depth":117.3,"res":5.37},{"depth":117.9,"res":4.07},{"depth":124.2,"res":3.98},{"depth":124.8,"res":6.76},{"depth":125.7,"res":16.6},{"depth":126.9,"res":24.5},{"depth":127.8,"res":25.7},{"depth":128.8,"res":13.2},{"depth":129.7,"res":8.91},{"depth":130.2,"res":8.51},{"depth":131.4,"res":16.6},{"depth":132,"res":51.3},{"depth":133,"res":112},{"depth":134.4,"res":155},{"depth":136,"res":166},{"depth":137.5,"res":155},{"depth":138.2,"res":100},{"depth":138.7,"res":26.3},{"depth":139.1,"res":9.55},{"depth":140.1,"res":6.46},{"depth":141,"res":6.03},{"depth":142.1,"res":7.08},{"depth":142.9,"res":13.2},{"depth":143.4,"res":51.3},{"depth":144,"res":195},{"depth":144.8,"res":372},{"depth":146.2,"res":562},{"depth":147.6,"res":646},{"depth":149,"res":589},{"depth":150.2,"res":562},{"depth":151.4,"res":708},{"depth":153.3,"res":1413},{"depth":154.7,"res":1778},{"depth":155.9,"res":1288},{"depth":156.8,"res":589},{"depth":157.5,"res":398},{"depth":158.9,"res":363},{"depth":162.9,"res":380},{"depth":163.8,"res":589},{"depth":164.6,"res":912},{"depth":166,"res":1148},{"depth":170,"res":1202},{"depth":176,"res":1202},{"depth":180.6,"res":1202},{"depth":181.5,"res":832},{"depth":182.5,"res":427},{"depth":183.4,"res":363},{"depth":186,"res":355},{"depth":188.1,"res":331},{"depth":189,"res":126},{"depth":189.8,"res":33.1},{"depth":190.3,"res":16.6},{"depth":191,"res":14.8},{"depth":195.7,"res":14.8},{"depth":196.8,"res":33.1},{"depth":197.6,"res":79.4},{"depth":198.3,"res":245},{"depth":199.5,"res":603},{"depth":200.9,"res":955},{"depth":202.8,"res":1148},{"depth":204.2,"res":1047},{"depth":205.3,"res":661},{"depth":206.3,"res":389},{"depth":207.2,"res":309},{"depth":208.1,"res":331},{"depth":209.4,"res":501},{"depth":210.8,"res":776},{"depth":212.2,"res":1122},{"depth":213.1,"res":813},{"depth":214.1,"res":257},{"depth":215,"res":81.3},{"depth":216,"res":26.3},{"depth":216.9,"res":15.8},{"depth":217.6,"res":16.6},{"depth":218.8,"res":42.7},{"depth":219.7,"res":132},{"depth":220.7,"res":209},{"depth":221.6,"res":102},{"depth":222.6,"res":26.3},{"depth":223.5,"res":10.7},{"depth":224.4,"res":8.51},{"depth":224.9,"res":8.13},{"depth":226.8,"res":11.7},{"depth":227.5,"res":16.6},{"depth":228.7,"res":18.6},{"depth":230.1,"res":26.3},{"depth":231,"res":54},{"depth":232,"res":95.5},{"depth":232.9,"res":117},{"depth":234.3,"res":117},{"depth":235.3,"res":74.1},{"depth":236.2,"res":33.1},{"depth":237.2,"res":23.4},{"depth":238.1,"res":26.3},{"depth":239,"res":58.9},{"depth":240,"res":93.3},{"depth":240.9,"res":93.3},{"depth":241.9,"res":72.4},{"depth":242.8,"res":79.4},{"depth":243.8,"res":91.2},{"depth":244.5,"res":41.7},{"depth":245.1,"res":10.7},{"depth":245.6,"res":7.08},{"depth":246.6,"res":6.76},{"depth":261.3,"res":6.76},{"depth":262.2,"res":8.51},{"depth":263.1,"res":9.33},{"depth":267.6,"res":9.33}],
"RACESLM":[{"depth":89.5,"res":9.55},{"depth":97.5,"res":9.55},{"depth":98.6,"res":13.2},{"depth":100,"res":25.1},{"depth":101.4,"res":52.5},{"depth":104.2,"res":83.2},{"depth":108.5,"res":72.4},{"depth":112.7,"res":37.2},{"depth":115.6,"res":16.2},{"depth":117.8,"res":6.76},{"depth":119.8,"res":4.47},{"depth":122.6,"res":4.17},{"depth":124.9,"res":5.5},{"depth":126.9,"res":11},{"depth":128.6,"res":11.7},{"depth":130.5,"res":9.55},{"depth":132.5,"res":18.6},{"depth":134.8,"res":52.5},{"depth":136.8,"res":63.1},{"depth":138.7,"res":37.2},{"depth":140.4,"res":15.1},{"depth":141.9,"res":11},{"depth":143.8,"res":26.3},{"depth":146.7,"res":145},{"depth":149.5,"res":794},{"depth":152.3,"res":1585},{"depth":155,"res":2512},{"depth":158,"res":3311},{"depth":163.6,"res":3802},{"depth":169.3,"res":3311},{"depth":174.9,"res":1905},{"depth":180.6,"res":490},{"depth":184.8,"res":100},{"depth":187.7,"res":26.3},{"depth":190.5,"res":11},{"depth":191.9,"res":9.55},{"depth":194.2,"res":18.6},{"depth":197.6,"res":63.1},{"depth":201.8,"res":204},{"depth":206.1,"res":347},{"depth":208.9,"res":347},{"depth":211.7,"res":204},{"depth":214.5,"res":52.5},{"depth":216.8,"res":18.6},{"depth":218.8,"res":22.9},{"depth":220.2,"res":30.2},{"depth":222.5,"res":16.2},{"depth":224.4,"res":8.32},{"depth":226.7,"res":8.32},{"depth":228.7,"res":11.7},{"depth":231.5,"res":37.2},{"depth":234.3,"res":63.1},{"depth":236.6,"res":45.7},{"depth":238.6,"res":30.2},{"depth":240.6,"res":42.7},{"depth":242.8,"res":52.5},{"depth":245.1,"res":26.3},{"depth":247.1,"res":9.55},{"depth":249.9,"res":6.76},{"depth":260,"res":5.89},{"depth":262.6,"res":8.91},{"depth":267.6,"res":9.55}],
"RACESHM":[{"depth":89.5,"res":9.55},{"depth":98.6,"res":9.77},{"depth":100,"res":20},{"depth":101.4,"res":56.2},{"depth":103,"res":89.1},{"depth":106,"res":100},{"depth":110,"res":89.1},{"depth":113,"res":56.2},{"depth":115.6,"res":15.8},{"depth":117.5,"res":6.31},{"depth":119.8,"res":4.37},{"depth":123,"res":4.37},{"depth":124.9,"res":5.25},{"depth":126.9,"res":11.7},{"depth":128.6,"res":12},{"depth":130.5,"res":9.55},{"depth":132.5,"res":22.4},{"depth":134.8,"res":89.1},{"depth":136.8,"res":100},{"depth":138.5,"res":56.2},{"depth":140.4,"res":12.6},{"depth":141.9,"res":8.91},{"depth":143.8,"res":39.8},{"depth":146.7,"res":316},{"depth":149,"res":1259},{"depth":150.5,"res":3162},{"depth":152,"res":10000},{"depth":152.5,"res":20000},{"depth":152.8,"res":20000},{"depth":154.7,"res":20000},{"depth":155,"res":20000},{"depth":156,"res":3981},{"depth":157.5,"res":794},{"depth":159.5,"res":447},{"depth":162,"res":447},{"depth":164,"res":1000},{"depth":165.5,"res":6310},{"depth":167,"res":20000},{"depth":167.3,"res":20000},{"depth":177.7,"res":20000},{"depth":178,"res":20000},{"depth":180,"res":3981},{"depth":182,"res":1000},{"depth":184.8,"res":200},{"depth":187.7,"res":31.6},{"depth":190.5,"res":11.2},{"depth":192.5,"res":10},{"depth":194.2,"res":15.8},{"depth":197.6,"res":70.8},{"depth":201.8,"res":282},{"depth":204,"res":562},{"depth":206.1,"res":1122},{"depth":208,"res":1778},{"depth":209.7,"res":1995},{"depth":211,"res":1259},{"depth":213,"res":316},{"depth":214.5,"res":63.1},{"depth":216.8,"res":17.8},{"depth":218.8,"res":28.2},{"depth":220.2,"res":44.7},{"depth":222.5,"res":22.4},{"depth":224.4,"res":7.94},{"depth":226.7,"res":8.32},{"depth":228.7,"res":12.6},{"depth":231.5,"res":44.7},{"depth":234.3,"res":89.1},{"depth":236.6,"res":50.1},{"depth":238.6,"res":31.6},{"depth":240.6,"res":52.5},{"depth":242.8,"res":63.1},{"depth":245.1,"res":20},{"depth":247.1,"res":7.94},{"depth":249.9,"res":6.61},{"depth":261,"res":6.61},{"depth":262.6,"res":8.91},{"depth":267.6,"res":9.55}],
"RACELM":[{"depth":89.5,"res":9.55},{"depth":97.5,"res":9.55},{"depth":98.6,"res":12.6},{"depth":100,"res":22.4},{"depth":101.4,"res":47.9},{"depth":104.2,"res":79.4},{"depth":108.5,"res":72.4},{"depth":112.7,"res":39.8},{"depth":115.6,"res":17.8},{"depth":117.8,"res":7.24},{"depth":119.8,"res":4.57},{"depth":122.6,"res":4.17},{"depth":124.9,"res":5.37},{"depth":126.9,"res":10.5},{"depth":128.6,"res":11.5},{"depth":130.5,"res":9.77},{"depth":132.5,"res":17.8},{"depth":134.8,"res":47.9},{"depth":136.8,"res":60.3},{"depth":138.7,"res":39.8},{"depth":140.4,"res":16.2},{"depth":141.9,"res":11.5},{"depth":143.8,"res":24.5},{"depth":146.7,"res":132},{"depth":149.5,"res":708},{"depth":152.3,"res":1479},{"depth":155,"res":2399},{"depth":158,"res":3236},{"depth":163.6,"res":3715},{"depth":169.3,"res":3236},{"depth":174.9,"res":1950},{"depth":180.6,"res":525},{"depth":184.8,"res":110},{"depth":187.7,"res":28.8},{"depth":190.5,"res":11.5},{"depth":191.9,"res":9.77},{"depth":194.2,"res":17.8},{"depth":197.6,"res":57.5},{"depth":201.8,"res":186},{"depth":206.1,"res":331},{"depth":208.9,"res":339},{"depth":211.7,"res":209},{"depth":214.5,"res":57.5},{"depth":216.8,"res":20},{"depth":218.8,"res":22.9},{"depth":220.2,"res":28.8},{"depth":222.5,"res":17},{"depth":224.4,"res":8.71},{"depth":226.7,"res":8.32},{"depth":228.7,"res":11.2},{"depth":231.5,"res":33.9},{"depth":234.3,"res":60.3},{"depth":236.6,"res":46.8},{"depth":238.6,"res":31.6},{"depth":240.6,"res":41.7},{"depth":242.8,"res":51.3},{"depth":245.1,"res":28.2},{"depth":247.1,"res":10.2},{"depth":249.9,"res":6.92},{"depth":260,"res":5.89},{"depth":262.6,"res":8.71},{"depth":267.6,"res":9.55}],
"RACEHM":[{"depth":89.5,"res":9.55},{"depth":98.6,"res":9.77},{"depth":100,"res":19.5},{"depth":101.4,"res":53.7},{"depth":103,"res":85.1},{"depth":106,"res":95.5},{"depth":110,"res":85.1},{"depth":113,"res":53.7},{"depth":115.6,"res":15.8},{"depth":117.5,"res":6.31},{"depth":119.8,"res":4.37},{"depth":123,"res":4.37},{"depth":124.9,"res":5.25},{"depth":126.9,"res":11.5},{"depth":128.6,"res":11.7},{"depth":130.5,"res":9.55},{"depth":132.5,"res":21.9},{"depth":134.8,"res":85.1},{"depth":136.8,"res":95.5},{"depth":138.5,"res":54},{"depth":140.4,"res":12.6},{"depth":141.9,"res":8.91},{"depth":143.8,"res":38},{"depth":146.7,"res":295},{"depth":149,"res":1148},{"depth":150.5,"res":2818},{"depth":152,"res":8913},{"depth":152.5,"res":20000},{"depth":152.8,"res":20000},{"depth":154.7,"res":20000},{"depth":155,"res":20000},{"depth":156,"res":3548},{"depth":157.5,"res":724},{"depth":159.5,"res":417},{"depth":162,"res":417},{"depth":164,"res":912},{"depth":165.5,"res":5623},{"depth":167,"res":20000},{"depth":167.3,"res":20000},{"depth":177.7,"res":20000},{"depth":178,"res":20000},{"depth":180,"res":3548},{"depth":182,"res":912},{"depth":184.8,"res":191},{"depth":187.7,"res":30.9},{"depth":190.5,"res":11.2},{"depth":192.5,"res":10},{"depth":194.2,"res":15.5},{"depth":197.6,"res":67.6},{"depth":201.8,"res":263},{"depth":204,"res":525},{"depth":206.1,"res":1047},{"depth":208,"res":1622},{"depth":209.7,"res":1820},{"depth":211,"res":1148},{"depth":213,"res":295},{"depth":214.5,"res":61.7},{"depth":216.8,"res":17.8},{"depth":218.8,"res":27.5},{"depth":220.2,"res":42.7},{"depth":222.5,"res":21.9},{"depth":224.4,"res":7.94},{"depth":226.7,"res":8.32},{"depth":228.7,"res":12.3},{"depth":231.5,"res":42.7},{"depth":234.3,"res":85.1},{"depth":236.6,"res":49},{"depth":238.6,"res":31.6},{"depth":240.6,"res":51.3},{"depth":242.8,"res":61.7},{"depth":245.1,"res":20},{"depth":247.1,"res":7.94},{"depth":249.9,"res":6.61},{"depth":261,"res":6.61},{"depth":262.6,"res":8.91},{"depth":267.6,"res":9.55}]
},
"concat":[
 {"width":68,"height":149,"view":{"fill":"#f0f8ff","stroke":null},"data":{"name":"depthTitle"},
  "mark":{"type":"text","font":"Liberation Sans","fontWeight":"bold","fontSize":12,"color":"#111111","baseline":"middle","lineBreak":"\n","lineHeight":13.2,"dy":-34},
  "encoding":{
   "x":{"datum":0.5,"type":"quantitative","scale":{"domain":[0,1]},"axis":{"orient":"top","grid":false,"ticks":false,"labels":false,"title":null}},
   "y":{"datum":0,"type":"quantitative","scale":{"domain":[0,1]},"axis":{"orient":"left","grid":false,"ticks":false,"labels":false,"title":null}},
   "text":{"field":"label","type":"nominal"}}},
 {"width":135,"height":149,"data":{"name":"hdr1"},
  "encoding":{"y":{"field":"row","type":"quantitative","scale":{"domain":[0,4.9667],"reverse":true,"nice":false,"zero":false},"axis":{"orient":"left","grid":false,"ticks":false,"labels":false,"title":null}},
   "color":{"field":"fam","type":"nominal","scale":{"domain":["RH","SL","SH","L","H"],"range":["#ff0000","#1a1ae6","#ff00ff","#00b400","#c0392b"]},"legend":null}},
  "layer":[
   {"mark":{"type":"rule","yOffset":15.3,"strokeWidth":2},"encoding":{"strokeDash":{"condition":{"test":"datum.fam === 'RH'","value":[6,3]},"value":[1,0]}}},
   {"mark":{"type":"text","dy":8.3,"fontSize":9.5,"baseline":"middle"},"encoding":{"x":{"datum":100,"type":"quantitative","scale":{"type":"log","domain":[1,10000],"nice":false},"axis":{"orient":"top","grid":false,"ticks":false,"labels":false,"title":null}},"text":{"field":"curve","type":"nominal"}}},
   {"mark":{"type":"text","dy":23.7,"dx":9,"align":"left","fontSize":9.5,"baseline":"middle"},"encoding":{"x":{"field":"lo","type":"quantitative","scale":{"type":"log","domain":[1,10000],"nice":false},"axis":null},"text":{"field":"lo","type":"quantitative","format":"d"}}},
   {"mark":{"type":"text","dy":23.7,"fontSize":9.5,"baseline":"middle"},"encoding":{"x":{"datum":100,"type":"quantitative","scale":{"type":"log","domain":[1,10000],"nice":false},"axis":null},"text":{"field":"unit","type":"nominal"}}},
   {"mark":{"type":"text","dy":23.7,"dx":-7,"align":"right","fontSize":9.5,"baseline":"middle"},"encoding":{"x":{"field":"hi","type":"quantitative","scale":{"type":"log","domain":[1,10000],"nice":false},"axis":null},"text":{"field":"hi","type":"quantitative","format":"d"}}}
  ]},
 {"width":136,"height":149,"data":{"name":"hdr2"},
  "encoding":{"y":{"field":"row","type":"quantitative","scale":{"domain":[0,4.9667],"reverse":true,"nice":false,"zero":false},"axis":{"orient":"left","grid":false,"ticks":false,"labels":false,"title":null}},
   "color":{"field":"fam","type":"nominal","scale":{"domain":["RH","SL","SH","L","H"],"range":["#ff0000","#1a1ae6","#ff00ff","#00b400","#c0392b"]},"legend":null}},
  "layer":[
   {"mark":{"type":"rule","yOffset":15.3,"strokeWidth":2},"encoding":{"strokeDash":{"condition":{"test":"datum.fam === 'RH'","value":[6,3]},"value":[1,0]}}},
   {"mark":{"type":"text","dy":8.3,"fontSize":9.5,"baseline":"middle"},"encoding":{"x":{"datum":100,"type":"quantitative","scale":{"type":"log","domain":[1,10000],"nice":false},"axis":{"orient":"top","grid":false,"ticks":false,"labels":false,"title":null}},"text":{"field":"curve","type":"nominal"}}},
   {"mark":{"type":"text","dy":23.7,"dx":9,"align":"left","fontSize":9.5,"baseline":"middle"},"encoding":{"x":{"field":"lo","type":"quantitative","scale":{"type":"log","domain":[1,10000],"nice":false},"axis":null},"text":{"field":"lo","type":"quantitative","format":"d"}}},
   {"mark":{"type":"text","dy":23.7,"fontSize":9.5,"baseline":"middle"},"encoding":{"x":{"datum":100,"type":"quantitative","scale":{"type":"log","domain":[1,10000],"nice":false},"axis":null},"text":{"field":"unit","type":"nominal"}}},
   {"mark":{"type":"text","dy":23.7,"dx":-7,"align":"right","fontSize":9.5,"baseline":"middle"},"encoding":{"x":{"field":"hi","type":"quantitative","scale":{"type":"log","domain":[1,10000],"nice":false},"axis":null},"text":{"field":"hi","type":"quantitative","format":"d"}}}
  ]},
 {"width":135,"height":149,"data":{"name":"hdr3"},
  "encoding":{"y":{"field":"row","type":"quantitative","scale":{"domain":[0,4.9667],"reverse":true,"nice":false,"zero":false},"axis":{"orient":"left","grid":false,"ticks":false,"labels":false,"title":null}},
   "color":{"field":"fam","type":"nominal","scale":{"domain":["RH","SL","SH","L","H"],"range":["#ff0000","#1a1ae6","#ff00ff","#00b400","#c0392b"]},"legend":null}},
  "layer":[
   {"mark":{"type":"rule","yOffset":15.3,"strokeWidth":2},"encoding":{"strokeDash":{"condition":{"test":"datum.fam === 'RH'","value":[6,3]},"value":[1,0]}}},
   {"mark":{"type":"text","dy":8.3,"fontSize":9.5,"baseline":"middle"},"encoding":{"x":{"datum":100,"type":"quantitative","scale":{"type":"log","domain":[1,10000],"nice":false},"axis":{"orient":"top","grid":false,"ticks":false,"labels":false,"title":null}},"text":{"field":"curve","type":"nominal"}}},
   {"mark":{"type":"text","dy":23.7,"dx":9,"align":"left","fontSize":9.5,"baseline":"middle"},"encoding":{"x":{"field":"lo","type":"quantitative","scale":{"type":"log","domain":[1,10000],"nice":false},"axis":null},"text":{"field":"lo","type":"quantitative","format":"d"}}},
   {"mark":{"type":"text","dy":23.7,"fontSize":9.5,"baseline":"middle"},"encoding":{"x":{"datum":100,"type":"quantitative","scale":{"type":"log","domain":[1,10000],"nice":false},"axis":null},"text":{"field":"unit","type":"nominal"}}},
   {"mark":{"type":"text","dy":23.7,"dx":-7,"align":"right","fontSize":9.5,"baseline":"middle"},"encoding":{"x":{"field":"hi","type":"quantitative","scale":{"type":"log","domain":[1,10000],"nice":false},"axis":null},"text":{"field":"hi","type":"quantitative","format":"d"}}}
  ]},
 {"width":124,"height":149,"data":{"name":"hdr4"},
  "encoding":{"y":{"field":"row","type":"quantitative","scale":{"domain":[0,4.9667],"reverse":true,"nice":false,"zero":false},"axis":{"orient":"left","grid":false,"ticks":false,"labels":false,"title":null}},
   "color":{"field":"fam","type":"nominal","scale":{"domain":["RH","SL","SH","L","H"],"range":["#ff0000","#1a1ae6","#ff00ff","#00b400","#c0392b"]},"legend":null}},
  "layer":[
   {"mark":{"type":"rule","yOffset":15.3,"strokeWidth":2},"encoding":{"strokeDash":{"condition":{"test":"datum.fam === 'RH'","value":[6,3]},"value":[1,0]}}},
   {"mark":{"type":"text","dy":8.3,"fontSize":9.5,"baseline":"middle","clip":true},"encoding":{"x":{"datum":100,"type":"quantitative","scale":{"type":"log","domain":[1,4721],"nice":false},"axis":{"orient":"top","grid":false,"ticks":false,"labels":false,"title":null}},"text":{"field":"curve","type":"nominal"}}},
   {"mark":{"type":"text","dy":23.7,"dx":9,"align":"left","fontSize":9.5,"baseline":"middle","clip":true},"encoding":{"x":{"field":"lo","type":"quantitative","scale":{"type":"log","domain":[1,4721],"nice":false},"axis":null},"text":{"field":"lo","type":"quantitative","format":"d"}}},
   {"mark":{"type":"text","dy":23.7,"fontSize":9.5,"baseline":"middle","clip":true},"encoding":{"x":{"datum":100,"type":"quantitative","scale":{"type":"log","domain":[1,4721],"nice":false},"axis":null},"text":{"field":"unit","type":"nominal"}}},
   {"mark":{"type":"text","dy":23.7,"dx":-7,"align":"right","fontSize":9.5,"baseline":"middle","clip":true},"encoding":{"x":{"field":"hi","type":"quantitative","scale":{"type":"log","domain":[1,4721],"nice":false},"axis":null},"text":{"field":"hi","type":"quantitative","format":"d"}}}
  ]},
 {"width":68,"height":629,"view":{"fill":"#f0f8ff","stroke":null},"data":{"name":"depthLabels"},
  "mark":{"type":"text","fontWeight":"bold","fontSize":14.5,"color":"#111111","baseline":"middle"},
  "encoding":{
   "x":{"datum":0.5,"type":"quantitative","scale":{"domain":[0,1]},"axis":{"orient":"top","grid":false,"ticks":false,"labels":false,"title":null}},
   "y":{"field":"depth","type":"quantitative","scale":{"domain":[89.55,267.2],"reverse":true,"nice":false,"zero":false},"axis":{"orient":"left","values":[90,92.5,95,97.5,100,102.5,105,107.5,110,112.5,115,117.5,120,122.5,125,127.5,130,132.5,135,137.5,140,142.5,145,147.5,150,152.5,155,157.5,160,162.5,165,167.5,170,172.5,175,177.5,180,182.5,185,187.5,190,192.5,195,197.5,200,202.5,205,207.5,210,212.5,215,217.5,220,222.5,225,227.5,230,232.5,235,237.5,240,242.5,245,247.5,250,252.5,255,257.5,260,262.5,265],"grid":false,"labels":false,"title":null,"tickSize":{"condition":{"test":"datum.value % 25 === 0","value":-9},"value":-5}}},
   "text":{"field":"depth","type":"quantitative","format":"d"}}},
 {"width":135,"height":629,
  "encoding":{
   "x":{"field":"res","type":"quantitative","scale":{"type":"log","domain":[1,10000],"nice":false,"clamp":true},"axis":{"orient":"top","values":[1,2,3,4,5,6,7,8,9,10,20,30,40,50,60,70,80,90,100,200,300,400,500,600,700,800,900,1000,2000,3000,4000,5000,6000,7000,8000,9000,10000],"grid":true,"ticks":false,"labels":false,"title":null,"gridColor":{"condition":{"test":"datum.value==1||datum.value==10||datum.value==100||datum.value==1000||datum.value==10000","value":"#a0a0a0"},"value":"#dcdcdc"}}},
   "y":{"field":"depth","type":"quantitative","scale":{"domain":[89.55,267.2],"reverse":true,"nice":false,"zero":false},"axis":{"orient":"left","values":[90,92.5,95,97.5,100,102.5,105,107.5,110,112.5,115,117.5,120,122.5,125,127.5,130,132.5,135,137.5,140,142.5,145,147.5,150,152.5,155,157.5,160,162.5,165,167.5,170,172.5,175,177.5,180,182.5,185,187.5,190,192.5,195,197.5,200,202.5,205,207.5,210,212.5,215,217.5,220,222.5,225,227.5,230,232.5,235,237.5,240,242.5,245,247.5,250,252.5,255,257.5,260,262.5,265],"grid":true,"labels":false,"title":null,"gridColor":{"condition":{"test":"datum.value % 25 === 0","value":"#a0a0a0"},"value":"#dcdcdc"},"tickSize":{"condition":{"test":"datum.value % 25 === 0","value":9},"value":5}}},
   "order":{"field":"depth","type":"quantitative"}},
  "layer":[
   {"data":{"name":"RPCEH"},"mark":{"type":"line","color":"#c0392b","strokeWidth":1.6,"interpolate":"catmull-rom"}},
   {"data":{"name":"RPCESH"},"mark":{"type":"line","color":"#ff00ff","strokeWidth":1.6,"interpolate":"catmull-rom"}},
   {"data":{"name":"RPCEL"},"mark":{"type":"line","color":"#00b400","strokeWidth":1.6,"interpolate":"catmull-rom"}},
   {"data":{"name":"RPCESL"},"mark":{"type":"line","color":"#1a1ae6","strokeWidth":1.6,"interpolate":"catmull-rom"}},
   {"data":{"name":"RH"},"mark":{"type":"line","color":"#ff0000","strokeWidth":1.8,"strokeDash":[7,4],"interpolate":"step-before"}}
  ]},
 {"width":136,"height":629,
  "encoding":{
   "x":{"field":"res","type":"quantitative","scale":{"type":"log","domain":[1,10000],"range":[0,134.5],"nice":false,"clamp":true},"axis":{"orient":"top","values":[1,2,3,4,5,6,7,8,9,10,20,30,40,50,60,70,80,90,100,200,300,400,500,600,700,800,900,1000,2000,3000,4000,5000,6000,7000,8000,9000],"grid":true,"ticks":false,"labels":false,"title":null,"gridColor":{"condition":{"test":"datum.value==1||datum.value==10||datum.value==100||datum.value==1000||datum.value==10000","value":"#a0a0a0"},"value":"#dcdcdc"}}},
   "y":{"field":"depth","type":"quantitative","scale":{"domain":[89.55,267.2],"reverse":true,"nice":false,"zero":false},"axis":{"orient":"left","values":[90,92.5,95,97.5,100,102.5,105,107.5,110,112.5,115,117.5,120,122.5,125,127.5,130,132.5,135,137.5,140,142.5,145,147.5,150,152.5,155,157.5,160,162.5,165,167.5,170,172.5,175,177.5,180,182.5,185,187.5,190,192.5,195,197.5,200,202.5,205,207.5,210,212.5,215,217.5,220,222.5,225,227.5,230,232.5,235,237.5,240,242.5,245,247.5,250,252.5,255,257.5,260,262.5,265],"grid":true,"ticks":false,"labels":false,"title":null,"gridColor":{"condition":{"test":"datum.value % 25 === 0","value":"#a0a0a0"},"value":"#dcdcdc"}}},
   "order":{"field":"depth","type":"quantitative"}},
  "layer":[
   {"data":{"name":"RACEH"},"mark":{"type":"line","color":"#c0392b","strokeWidth":1.6,"interpolate":"catmull-rom","clip":true}},
   {"data":{"name":"RACEL"},"mark":{"type":"line","color":"#00b400","strokeWidth":1.6,"interpolate":"catmull-rom","clip":true}},
   {"data":{"name":"RACESL"},"mark":{"type":"line","color":"#1a1ae6","strokeWidth":1.6,"interpolate":"catmull-rom","clip":true}},
   {"data":{"name":"RACESH"},"mark":{"type":"line","color":"#ff00ff","strokeWidth":1.6,"interpolate":"catmull-rom","clip":true}},
   {"data":{"name":"RH"},"mark":{"type":"line","color":"#ff0000","strokeWidth":1.8,"strokeDash":[7,4],"interpolate":"step-before"}}
  ]},
 {"width":135,"height":629,
  "encoding":{
   "x":{"field":"res","type":"quantitative","scale":{"type":"log","domain":[1,10000],"nice":false,"clamp":true},"axis":{"orient":"top","values":[1,2,3,4,5,6,7,8,9,10,20,30,40,50,60,70,80,90,100,200,300,400,500,600,700,800,900,1000,2000,3000,4000,5000,6000,7000,8000,9000,10000],"grid":true,"ticks":false,"labels":false,"title":null,"gridColor":{"condition":{"test":"datum.value==1||datum.value==10||datum.value==100||datum.value==1000||datum.value==10000","value":"#a0a0a0"},"value":"#dcdcdc"}}},
   "y":{"field":"depth","type":"quantitative","scale":{"domain":[89.55,267.2],"reverse":true,"nice":false,"zero":false},"axis":{"orient":"left","values":[90,92.5,95,97.5,100,102.5,105,107.5,110,112.5,115,117.5,120,122.5,125,127.5,130,132.5,135,137.5,140,142.5,145,147.5,150,152.5,155,157.5,160,162.5,165,167.5,170,172.5,175,177.5,180,182.5,185,187.5,190,192.5,195,197.5,200,202.5,205,207.5,210,212.5,215,217.5,220,222.5,225,227.5,230,232.5,235,237.5,240,242.5,245,247.5,250,252.5,255,257.5,260,262.5,265],"grid":true,"ticks":false,"labels":false,"title":null,"gridColor":{"condition":{"test":"datum.value % 25 === 0","value":"#a0a0a0"},"value":"#dcdcdc"}}},
   "order":{"field":"depth","type":"quantitative"}},
  "layer":[
   {"data":{"name":"RPCEHM"},"mark":{"type":"line","color":"#c0392b","strokeWidth":1.6,"interpolate":"catmull-rom"}},
   {"data":{"name":"RPCESHM"},"mark":{"type":"line","color":"#ff00ff","strokeWidth":1.6,"interpolate":"catmull-rom"}},
   {"data":{"name":"RPCELM"},"mark":{"type":"line","color":"#00b400","strokeWidth":1.6,"interpolate":"catmull-rom"}},
   {"data":{"name":"RPCESLM"},"mark":{"type":"line","color":"#1a1ae6","strokeWidth":1.6,"interpolate":"catmull-rom"}},
   {"data":{"name":"RH"},"mark":{"type":"line","color":"#ff0000","strokeWidth":1.8,"strokeDash":[7,4],"interpolate":"step-before"}}
  ]},
 {"width":124,"height":629,
  "encoding":{
   "x":{"field":"res","type":"quantitative","scale":{"type":"log","domain":[1,4721],"nice":false},"axis":{"orient":"top","values":[1,2,3,4,5,6,7,8,9,10,20,30,40,50,60,70,80,90,100,200,300,400,500,600,700,800,900,1000,2000,3000,4000],"grid":true,"ticks":false,"labels":false,"title":null,"gridColor":{"condition":{"test":"datum.value==1||datum.value==10||datum.value==100||datum.value==1000||datum.value==10000","value":"#a0a0a0"},"value":"#dcdcdc"}}},
   "y":{"field":"depth","type":"quantitative","scale":{"domain":[89.55,267.2],"reverse":true,"nice":false,"zero":false},"axis":{"orient":"left","values":[90,92.5,95,97.5,100,102.5,105,107.5,110,112.5,115,117.5,120,122.5,125,127.5,130,132.5,135,137.5,140,142.5,145,147.5,150,152.5,155,157.5,160,162.5,165,167.5,170,172.5,175,177.5,180,182.5,185,187.5,190,192.5,195,197.5,200,202.5,205,207.5,210,212.5,215,217.5,220,222.5,225,227.5,230,232.5,235,237.5,240,242.5,245,247.5,250,252.5,255,257.5,260,262.5,265],"grid":true,"ticks":false,"labels":false,"title":null,"gridColor":{"condition":{"test":"datum.value % 25 === 0","value":"#a0a0a0"},"value":"#dcdcdc"}}},
   "order":{"field":"depth","type":"quantitative"}},
  "layer":[
   {"data":{"name":"RACEHM"},"mark":{"type":"line","color":"#c0392b","strokeWidth":1.6,"interpolate":"catmull-rom","clip":true}},
   {"data":{"name":"RACELM"},"mark":{"type":"line","color":"#00b400","strokeWidth":1.6,"interpolate":"catmull-rom","clip":true}},
   {"data":{"name":"RACESLM"},"mark":{"type":"line","color":"#1a1ae6","strokeWidth":1.6,"interpolate":"catmull-rom","clip":true}},
   {"data":{"name":"RACESHM"},"mark":{"type":"line","color":"#ff00ff","strokeWidth":1.6,"interpolate":"catmull-rom","clip":true}},
   {"data":{"name":"RH"},"mark":{"type":"line","color":"#ff0000","strokeWidth":1.8,"strokeDash":[7,4],"interpolate":"step-before","clip":true}}
  ]}
]
}
